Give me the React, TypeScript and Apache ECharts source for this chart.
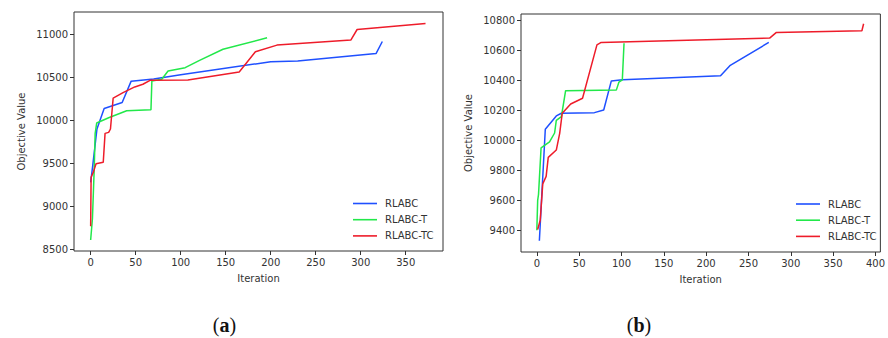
import React, { useEffect, useRef } from "react";
import * as echarts from "echarts";

const seriesNames = ["RLABC", "RLABC-T", "RLABC-TC"];
const colors = ["#1f50ff", "#22e84a", "#ee1c2a"];

// Panel (a)
const aRLABC: number[][] = [
  [0, 9280], [2, 9450], [7, 9900], [15, 10138], [35, 10208], [45, 10455],
  [70, 10480], [100, 10530], [200, 10680], [230, 10690], [317, 10775], [324, 10915],
];
const aRLABCT: number[][] = [
  [0, 8612], [2, 8862], [4, 9450], [5, 9850], [6.7, 9969], [20, 10030],
  [40, 10111], [67, 10123], [68, 10457], [79, 10477], [86, 10573], [105, 10611],
  [121, 10696], [147, 10825], [196, 10958],
];
const aRLABCTC: number[][] = [
  [0, 8773], [0.5, 9340], [3, 9400], [6, 9497], [14, 9515], [16, 9849],
  [20, 9861], [22, 9900], [25, 10258], [36, 10322], [49, 10388], [58, 10419],
  [66, 10465], [108, 10468], [165, 10562], [183, 10796], [207, 10873],
  [289, 10931], [296, 11054], [372, 11125],
];

// Panel (b)
const bRLABC: number[][] = [
  [3, 9330], [10, 10075], [23, 10164], [29, 10182], [68, 10186], [79, 10204],
  [88, 10398], [101, 10405], [217, 10432], [228, 10500], [274, 10655],
];
const bRLABCT: number[][] = [
  [0, 9400], [1, 9600], [2, 9640], [5, 9950], [15, 9990], [21, 10050],
  [23, 10135], [29, 10160], [34, 10333], [94, 10338], [97, 10390],
  [101, 10405], [103, 10650],
];
const bRLABCTC: number[][] = [
  [1, 9405], [4, 9467], [7, 9710], [11, 9760], [13.5, 9887], [23, 9936],
  [27, 10048], [30, 10182], [40, 10244], [54, 10282], [71, 10639], [76, 10655],
  [275, 10684], [283, 10722], [384, 10733], [386, 10780],
];

const aXTicks = [0, 50, 100, 150, 200, 250, 300, 350];
const aYTicks = [8500, 9000, 9500, 10000, 10500, 11000];
const bXTicks = [0, 50, 100, 150, 200, 250, 300, 350, 400];
const bYTicks = [9400, 9600, 9800, 10000, 10200, 10400, 10600, 10800];

const font = "DejaVu Sans";
const textColor = "#333";

function xAxis(gridIndex: number, min: number, max: number, ticks: number[]) {
  return {
    type: "value",
    gridIndex,
    min,
    max,
    name: "Iteration",
    nameLocation: "middle",
    nameGap: 22,
    nameTextStyle: { fontFamily: font, fontSize: 10, color: textColor },
    axisLine: { show: false, onZero: false },
    splitLine: { show: false },
    axisTick: { show: true, length: 4, customValues: ticks, lineStyle: { color: "#333" } },
    axisLabel: {
      customValues: ticks,
      formatter: (v: number) => String(v),
      fontFamily: font,
      fontSize: 10,
      color: textColor,
      margin: 6,
    },
  };
}
function yAxis(gridIndex: number, min: number, max: number, ticks: number[]) {
  return {
    type: "value",
    gridIndex,
    min,
    max,
    name: "Objective Value",
    nameLocation: "middle",
    nameGap: 48,
    nameTextStyle: { fontFamily: font, fontSize: 10, color: textColor },
    axisLine: { show: false, onZero: false },
    splitLine: { show: false },
    axisTick: { show: true, length: 4, customValues: ticks, lineStyle: { color: "#333" } },
    axisLabel: {
      customValues: ticks,
      formatter: (v: number) => String(v),
      fontFamily: font,
      fontSize: 10,
      color: textColor,
      margin: 6,
    },
  };
}

function line(name: string, data: number[][], idx: number, color: string) {
  return {
    type: "line",
    name,
    data,
    xAxisIndex: idx,
    yAxisIndex: idx,
    symbol: "none",
    lineStyle: { width: 1.5, color },
    itemStyle: { color },
  };
}

function legend(left: number, top: number) {
  return {
    orient: "vertical",
    left,
    top,
    icon: "rect",
    itemWidth: 24,
    itemHeight: 1.6,
    itemGap: 6.2,
    data: seriesNames,
    textStyle: { fontFamily: font, fontSize: 10, color: textColor, padding: [0, 0, 0, 3] },
  };
}

const labelStyle = (letter: string) => ({
  text: "({b|" + letter + "})",
  fontFamily: "Liberation Serif",
  fontSize: 20,
  fill: "#111",
  align: "center",
  verticalAlign: "middle",
  rich: { b: { fontWeight: "bold", fontFamily: "Liberation Serif", fontSize: 20, fill: "#111" } },
});

export default function App() {
  const ref = useRef<HTMLDivElement>(null);
  useEffect(() => {
    if (!ref.current) return;
    const chart = echarts.init(ref.current, null, { renderer: "svg" });
    chart.setOption({
      animation: false,
      backgroundColor: "#fff",
      grid: [
        { left: 74, top: 12, width: 369, height: 239, show: true, borderColor: "#333", borderWidth: 1 },
        { left: 521, top: 14, width: 363, height: 238, show: true, borderColor: "#333", borderWidth: 1 },
      ],
      xAxis: [xAxis(0, -18.5, 391.4, aXTicks), xAxis(1, -18.7, 405.8, bXTicks)],
      yAxis: [yAxis(0, 8485, 11257, aYTicks), yAxis(1, 9255, 10845, bYTicks)],
      legend: [legend(348, 193.5), legend(791, 194)],
      series: [
        line(seriesNames[0], aRLABC, 0, colors[0]),
        line(seriesNames[1], aRLABCT, 0, colors[1]),
        line(seriesNames[2], aRLABCTC, 0, colors[2]),
        line(seriesNames[0], bRLABC, 1, colors[0]),
        line(seriesNames[1], bRLABCT, 1, colors[1]),
        line(seriesNames[2], bRLABCTC, 1, colors[2]),
      ],
      graphic: [
        { type: "text", x: 224.5, y: 325, style: labelStyle("a") },
        { type: "text", x: 639, y: 325, style: labelStyle("b") },
      ],
    });
    return () => chart.dispose();
  }, []);
  return <div ref={ref} style={{ width: 888, height: 338, position: "absolute", left: 0, top: 0 }} />;
}
